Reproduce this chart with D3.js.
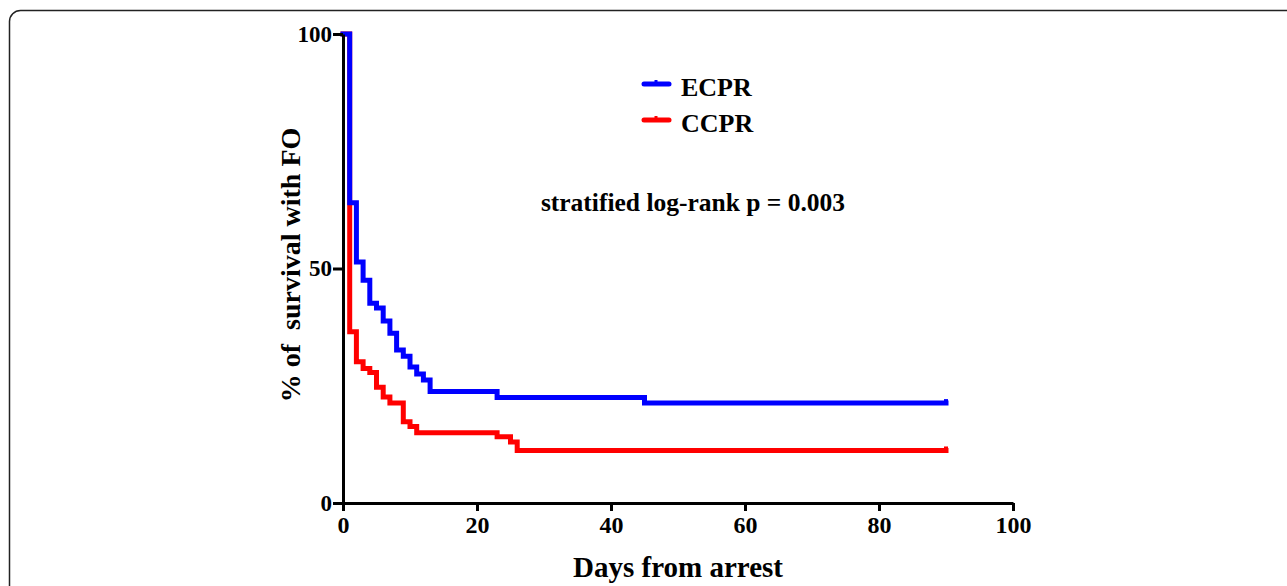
<!DOCTYPE html>
<html>
<head>
<meta charset="utf-8">
<script src="https://cdn.jsdelivr.net/npm/d3@7"></script>
<style>
  body { margin: 0; background: #fff; }
  svg { display: block; }
  text { font-family: "Liberation Serif", "Times New Roman", serif; font-weight: bold; fill: #000; }
</style>
</head>
<body>
<div id="chart"></div>
<script>
// Kaplan-Meier steps (day, % still surviving with FO)
const ecprDays = [0, 1, 2, 3, 4, 5, 6, 7, 8, 9, 10, 11, 12, 13, 23, 45];
const ecprSurv = [100, 64.0, 51.4, 47.5, 42.6, 41.6, 38.8, 36.2, 32.6, 31.3, 29.0, 27.5, 26.2, 23.8, 22.5, 21.3];
const ccprDays = [0, 1, 2, 3, 4, 5, 6, 7, 9, 10, 11, 23, 25, 26];
const ccprSurv = [100, 36.5, 30.1, 28.7, 27.8, 24.7, 22.6, 21.3, 17.3, 16.3, 15.0, 14.1, 13.0, 11.2];
const followUpEnd = 90;

const xTicks = [0, 20, 40, 60, 80, 100];
const yTicks = [0, 50, 100];
const seriesNames = ["ECPR", "CCPR"];
const seriesColors = ["#0000ff", "#ff0000"];
const pLabel = "stratified log-rank p = 0.003";

const width = 1287, height = 586;

const svg = d3.select("#chart")
    .append("svg")
    .attr("width", width)
    .attr("height", height);

// rounded frame, runs off the right and bottom edge
svg.append("rect")
    .attr("x", 9.5).attr("y", 10.5)
    .attr("width", 1300).attr("height", 620)
    .attr("rx", 11)
    .attr("fill", "none")
    .attr("stroke", "#222")
    .attr("stroke-width", 1.5);

const x = d3.scaleLinear().domain([0, 100]).range([343, 1013]);
const y = d3.scaleLinear().domain([0, 100]).range([503, 34]);

const toSteps = (days, surv) => {
    const pts = days.map((d, i) => [d, surv[i]]);
    pts.push([followUpEnd, surv[surv.length - 1]]);
    return pts;
};

const line = d3.line()
    .x(d => x(d[0]))
    .y(d => y(d[1]))
    .curve(d3.curveStepAfter);

// red first so blue covers it where they overlap on day 1
const series = [
    { name: "CCPR", color: seriesColors[1], pts: toSteps(ccprDays, ccprSurv) },
    { name: "ECPR", color: seriesColors[0], pts: toSteps(ecprDays, ecprSurv) }
];

const curves = svg.append("g");
series.forEach(s => {
    curves.append("path")
        .attr("d", line(s.pts))
        .attr("fill", "none")
        .attr("stroke", s.color)
        .attr("stroke-width", 5)
        .attr("stroke-linecap", "square");

    // censor mark at the end of follow-up
    const last = s.pts[s.pts.length - 1];
    curves.append("line")
        .attr("x1", x(last[0])).attr("x2", x(last[0]))
        .attr("y1", y(last[1]) - 4).attr("y2", y(last[1]) + 1)
        .attr("stroke", s.color)
        .attr("stroke-width", 4);
});

// axes
const xAxis = svg.append("g")
    .attr("transform", `translate(0,${y(0)})`)
    .call(d3.axisBottom(x).tickValues(xTicks).tickSize(8).tickSizeOuter(0).tickPadding(5));
const yAxis = svg.append("g")
    .attr("transform", `translate(${x(0)},0)`)
    .call(d3.axisLeft(y).tickValues(yTicks).tickSize(10).tickSizeOuter(0).tickPadding(1));

[xAxis, yAxis].forEach(g => {
    g.select(".domain").attr("stroke", "#000").attr("stroke-width", 3);
    g.selectAll(".tick line").attr("stroke", "#000").attr("stroke-width", 3);
    g.selectAll("text").attr("font-family", null).attr("fill", "#000");
});
xAxis.selectAll("text").style("font-size", "24px");
yAxis.selectAll("text").style("font-size", "23px");

svg.append("text")
    .attr("x", 678).attr("y", 577)
    .attr("text-anchor", "middle")
    .style("font-size", "29px")
    .text("Days from arrest");

svg.append("text")
    .attr("transform", "translate(300,265) rotate(-90)")
    .attr("text-anchor", "middle")
    .style("font-size", "28px")
    .style("white-space", "pre")
    .text("% of  survival with FO");

// legend
const legend = svg.append("g");
seriesNames.forEach((name, i) => {
    const ly = 84 + i * 36;
    legend.append("line")
        .attr("x1", 644).attr("x2", 669)
        .attr("y1", ly).attr("y2", ly)
        .attr("stroke", seriesColors[i])
        .attr("stroke-width", 5)
        .attr("stroke-linecap", "round");
    legend.append("line")
        .attr("x1", 656).attr("x2", 656)
        .attr("y1", ly - 4).attr("y2", ly)
        .attr("stroke", seriesColors[i])
        .attr("stroke-width", 3);
    legend.append("text")
        .attr("x", 681).attr("y", ly + 12)
        .style("font-size", "26px")
        .text(name);
});

svg.append("text")
    .attr("x", 693).attr("y", 211)
    .attr("text-anchor", "middle")
    .style("font-size", "25.5px")
    .text(pLabel);
</script>
</body>
</html>
